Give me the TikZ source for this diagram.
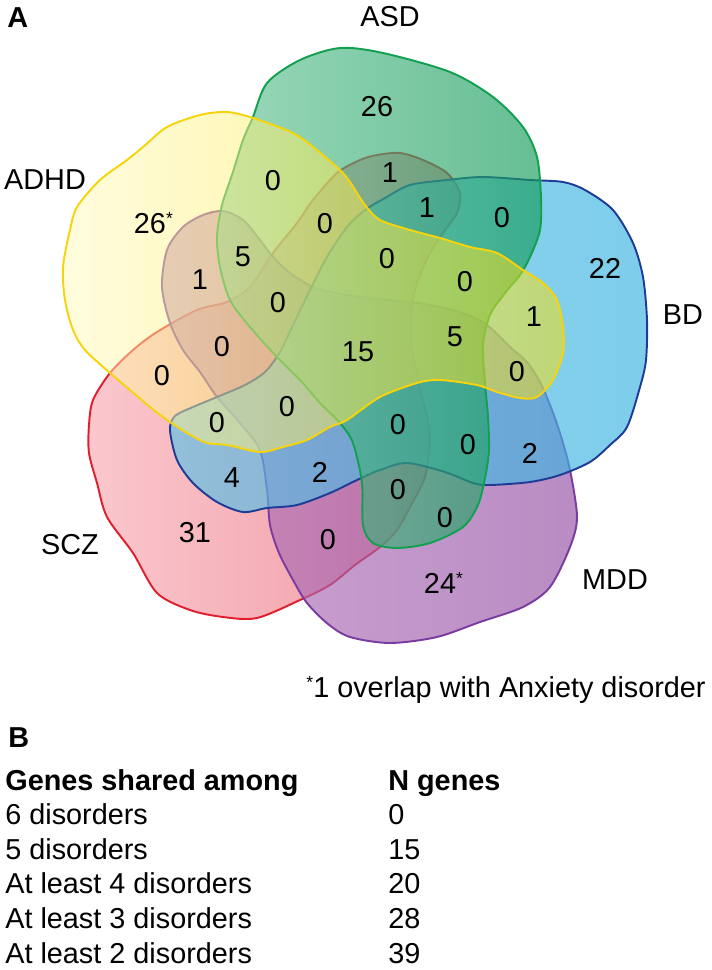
\documentclass[tikz,border=0pt]{standalone}
\usepackage{fontspec}
\setmainfont{Liberation Sans}
\definecolor{sczLine}{RGB}{225,30,45}
\definecolor{sczLeft}{RGB}{247,170,178}
\definecolor{sczRight}{RGB}{232,93,109}
\definecolor{mddLine}{RGB}{122,60,160}
\definecolor{mddLeft}{RGB}{178,117,186}
\definecolor{mddRight}{RGB}{147,78,163}
\definecolor{bdLine}{RGB}{30,60,150}
\definecolor{bdLeft}{RGB}{93,193,232}
\definecolor{bdRight}{RGB}{55,178,224}
\definecolor{asdLine}{RGB}{18,160,80}
\definecolor{asdLeft}{RGB}{100,195,150}
\definecolor{asdRight}{RGB}{20,155,90}
\definecolor{adhdLine}{RGB}{245,212,14}
\definecolor{adhdLeft}{RGB}{255,250,190}
\definecolor{adhdRight}{RGB}{255,224,0}
\newcommand\countfont{\fontsize{16.4pt}{19.5pt}\selectfont}
\newcommand\fnstar{\raisebox{5pt}{\fontsize{10pt}{10pt}\selectfont *}}

\begin{document}
\begin{tikzpicture}
[x=0.02cm, y=-0.02cm,
  petalDecorate/.style={line width=1.1pt, line join=round, fill opacity=0.65},
  countDecorate/.style={inner sep=0pt, font=\countfont},
  tableDecorate/.style={inner sep=0pt, anchor=base west, font=\countfont}]
\useasboundingbox (0,0) rectangle (711,970);
%% petals, lowest first
\path[petalDecorate, draw=sczLine, left color=sczLeft, right color=sczRight]
  plot[smooth cycle] coordinates {
  (400,153) (423,160) (447,173) (460,193) (457,213) (443,233) (430,253)
  (417,283) (412,307) (411,340) (418,380) (427,417) (430,443) (425,477)
  (410,507) (397,530) (380,547) (355,565) (330,585) (300,600) (257,618)
  (223,617) (190,610) (157,593) (133,553) (107,517) (97,483) (89,453)
  (89,425) (93,400) (110,373) (133,350) (157,332) (197,310) (227,302)
  (250,287) (273,253) (297,223) (313,200) (337,173) (360,160) (377,155)};
\path[petalDecorate, draw=mddLine, left color=mddLeft, right color=mddRight]
  plot[smooth cycle] coordinates {
  (203,215) (223,211) (243,220) (260,240) (273,257) (290,273) (313,287)
  (337,293) (367,298) (410,302) (440,307) (463,313) (487,325) (510,347)
  (527,362) (540,382) (550,405) (560,433) (570,470) (577,517) (570,547)
  (550,587) (523,607) (480,622) (437,637) (390,643) (350,637) (328,624)
  (307,603) (293,580) (279,553) (270,525) (267,490) (260,450) (240,423)
  (217,397) (200,372) (183,350) (170,323) (162,287) (167,250) (183,227)};
\path[petalDecorate, draw=bdLine, left color=bdLeft, right color=bdRight]
  plot[smooth cycle] coordinates {
  (170,430) (175,416) (193,407) (217,397) (245,385) (265,372) (280,352)
  (293,325) (310,290) (327,257) (347,227) (365,210) (385,198) (410,185)
  (447,180) (483,177) (530,180) (563,182) (585,190) (613,210) (633,243)
  (643,277) (647,320) (646,360) (640,387) (627,427) (610,445) (590,462)
  (560,475) (530,482) (490,485) (473,483) (445,472) (407,463) (380,470)
  (357,480) (330,493) (297,505) (267,508) (243,512) (217,502) (193,483)
  (177,460)};
\path[petalDecorate, draw=asdLine, left color=asdLeft, right color=asdRight]
  plot[smooth cycle] coordinates {
  (253,117) (267,83) (300,60) (340,48) (383,53) (450,72) (493,97)
  (523,127) (537,157) (541,197) (540,230) (530,257) (520,275) (505,293)
  (490,315) (483,345) (485,383) (488,417) (489,450) (485,478) (478,505)
  (463,527) (430,543) (397,548) (373,543) (363,525) (362,483) (353,443)
  (340,423) (320,403) (300,380) (277,357) (250,327) (230,300) (220,267)
  (217,237) (222,205) (232,175) (243,140)};
\path[petalDecorate, fill opacity=0.5, draw=adhdLine, left color=adhdLeft,
  right color=adhdRight]
  plot[smooth cycle] coordinates {
  (63,267) (70,230) (77,207) (100,180) (127,160) (143,147) (167,127)
  (200,115) (227,112) (253,118) (293,133) (317,150) (340,170) (350,182)
  (365,205) (380,220) (410,230) (440,238) (470,247) (497,253) (523,270)
  (543,283) (557,300) (563,327) (563,353) (553,380) (537,397) (520,398)
  (497,392) (477,385) (440,380) (417,383) (380,397) (347,420) (330,427)
  (307,440) (283,447) (260,452) (227,445) (207,443) (187,433) (167,420)
  (150,407) (130,390) (110,373) (85,350) (73,330) (65,300)};
%% disorder names
\foreach \nodename/\x/\y/\txt in {
  adhd/45/180/ADHD, asd/390/17/ASD, bd/683/315/BD,
  scz/70/545/SCZ, mdd/615/580/MDD}
{
  \node (\nodename) at (\x,\y) [countDecorate] {\txt};
}
%% gene counts
\foreach \nodename/\x/\y/\val in {
  c1/150/223/26\rlap{\fnstar}, c2/377/107/26, c3/605/268/22,
  c4/440/583/24\rlap{\fnstar}, c5/195/533/31,
  c6/273/181/0, c7/390/173/1, c8/427/208/1, c9/502/218/0, c10/325/224/0,
  c11/243/257/5, c12/387/259/0, c13/465/282/0, c14/200/280/1,
  c15/278/303/0, c16/534/317/1, c17/222/347/0, c18/358/352/15,
  c19/455/337/5, c20/517/372/0, c21/162/376/0, c22/217/423/0,
  c23/287/407/0, c24/398/425/0, c25/468/445/0, c26/530/453/2,
  c27/232/478/4, c28/320/472/2, c29/398/490/0, c30/328/540/0,
  c31/445/518/0}
{
  \node (\nodename) at (\x,\y) [countDecorate] {\val};
}
%% panel letters and footnote
\node (panelA) at (7,28) [tableDecorate] {\bfseries A};
\node (panelB) at (8,747) [tableDecorate] {\bfseries B};
\node (note) at (706,697) [countDecorate, anchor=base east]
  {\fnstar 1 overlap with Anxiety disorder};
%% table
\node (headA) at (5,790) [tableDecorate] {\bfseries Genes shared among};
\node (headB) at (388,790) [tableDecorate] {\bfseries N genes};
\foreach \nodename/\y/\what/\num in {
  rowa/824.6/6 disorders/0, rowb/859.2/5 disorders/15,
  rowc/893.8/At least 4 disorders/20, rowd/928.4/At least 3 disorders/28,
  rowe/963/At least 2 disorders/39}
{
  \node (\nodename) at (5,\y) [tableDecorate] {\what};
  \node (\nodename n) at (388,\y) [tableDecorate] {\num};
}
\end{tikzpicture}
\end{document}
